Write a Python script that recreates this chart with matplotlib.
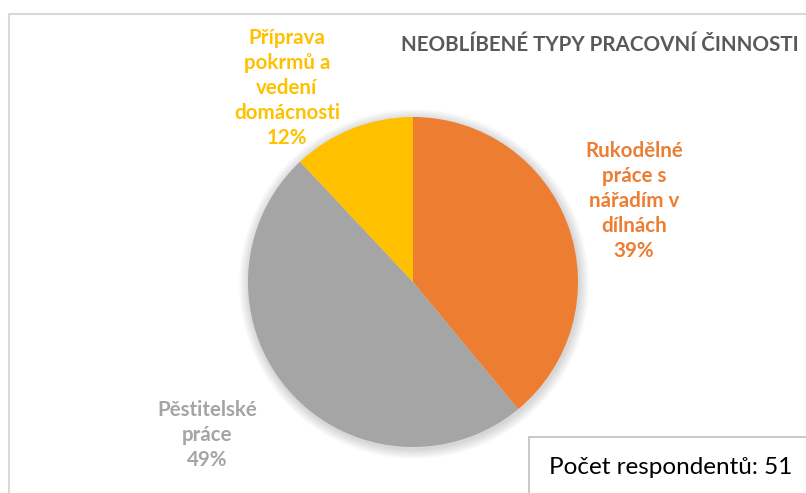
import matplotlib.pyplot as plt
from matplotlib.patches import Rectangle, Circle

plt.rcParams['font.family'] = ['Lato', 'DejaVu Sans']

labels = ['Rukodělné\npráce s\nnářadím v\ndílnách', 'Pěstitelské\npráce', 'Příprava\npokrmů a\nvedení\ndomácnosti']
values = [39, 49, 12]
colors = ['#ED7D31', '#A5A5A5', '#FFC000']
# label centres in pixels (x, y from top)
label_pos = [(634, 201), (207, 435), (287, 88)]

W, H = 806, 493
fig = plt.figure(figsize=(W / 100, H / 100), dpi=100)
ax = fig.add_axes([0, 0, 1, 1])

cx, cy, r = 413, H - 282, 165

# chart area border
ax.add_patch(Rectangle((9, -10), W + 20, H - 14 + 10, fill=False, edgecolor='#d9d9d9', lw=1.5))

# soft shadow
for i in range(10):
    ax.add_patch(Circle((cx + 1, cy - 2), r + 10 - i, color='black', alpha=0.014, lw=0, zorder=1))

ax.pie(values, colors=colors, startangle=90, counterclock=False,
       center=(cx, cy), radius=r, frame=True,
       wedgeprops=dict(linewidth=0, zorder=2))
ax.set_xlim(0, W)
ax.set_ylim(0, H)
ax.axis('off')

for lab, v, c, (x, y) in zip(labels, values, colors, label_pos):
    ax.text(x, H - y, f'{lab}\n{v}%', color=c, fontsize=14.8, fontweight='bold',
            ha='center', va='center', linespacing=1.3)

ax.text(401, H - 45, 'NEOBLÍBENÉ TYPY PRACOVNÍ ČINNOSTI', color='#595959',
        fontsize=14.9, fontweight='bold', ha='left', va='center')

# respondents box
ax.add_patch(Rectangle((529, -10), W, H - 437 + 10, facecolor='white', edgecolor='#bfbfbf', lw=1.2, zorder=5))
ax.text(549, H - 467, 'Počet respondentů: 51', color='black', fontsize=17.5,
        ha='left', va='center', zorder=6)

fig.savefig('out.png', dpi=100)
